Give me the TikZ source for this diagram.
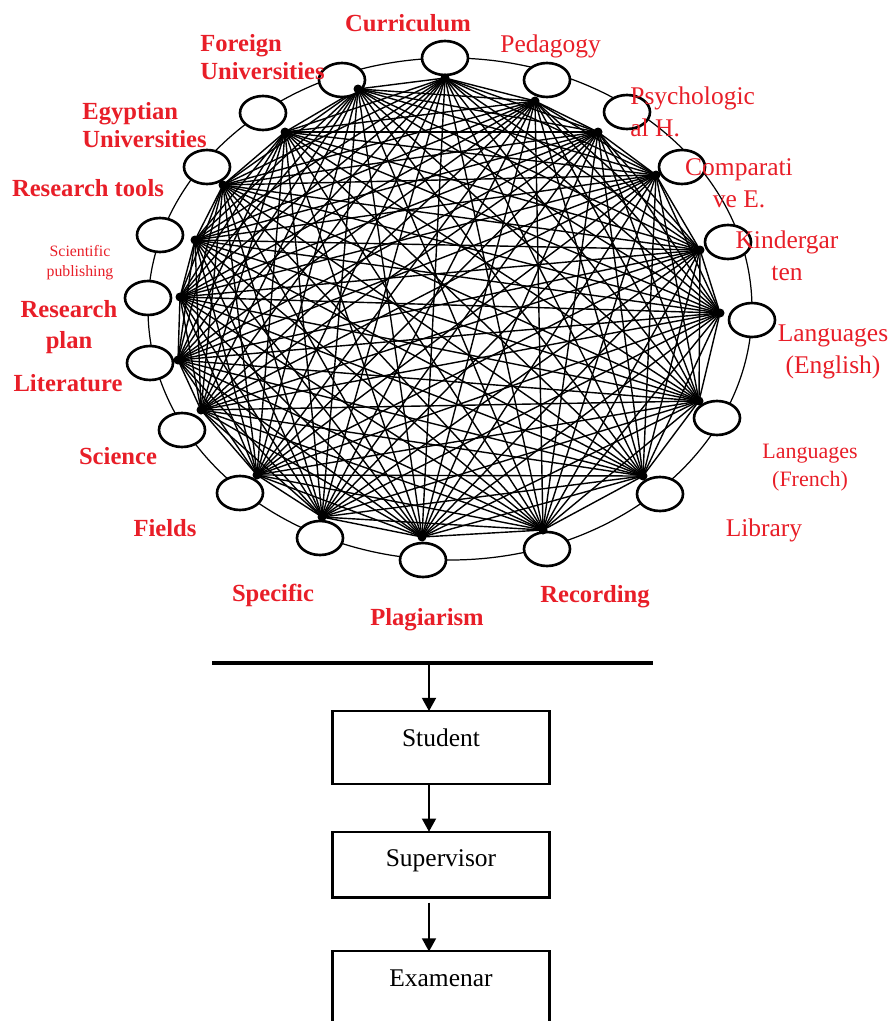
\documentclass[tikz,border=0pt]{standalone}
\usepackage{fontspec}
\setmainfont{Liberation Serif}
\usetikzlibrary{shapes.geometric,positioning,arrows.meta}

\definecolor{labelred}{RGB}{232,30,40}

\tikzset{
  station/.style={ellipse, draw, line width=1.5pt, fill=white,
    minimum width=0.92cm, minimum height=0.68cm, inner sep=0pt},
  link/.style={line width=0.8pt},
  ring/.style={line width=0.7pt},
  boldtag/.style={text=labelred, inner sep=0pt, align=center,
    font=\bfseries\fontsize{14pt}{15.5pt}\selectfont},
  thintag/.style={text=labelred, inner sep=0pt, align=center,
    font=\fontsize{14.5pt}{18pt}\selectfont},
  stagebox/.style={draw, line width=1.2pt, anchor=north, outer sep=0pt,
    minimum width=4.34cm, inner ysep=10pt, text height=10pt,
    font=\fontsize{14.5pt}{17pt}\selectfont},
  flow/.style={line width=1pt, -{Triangle[length=7.5pt, width=8pt]}}
}

\begin{document}
\begin{tikzpicture}[x=0.02cm, y=-0.02cm]

    % Fix the frame to the size of the figure
    \useasboundingbox (0,0) rectangle (893,1021);
    \clip (0,0) rectangle (893,1021);

    % Centre of the ring of topics
    \coordinate (ctr) at (450,309);

    % Meeting points of the links, just inside each topic
    \coordinate (p1) at (445,78);
    \coordinate (p2) at (535,101);
    \coordinate (p3) at (598,132);
    \coordinate (p4) at (656,175);
    \coordinate (p5) at (700,250);
    \coordinate (p6) at (720,313);
    \coordinate (p7) at (699,401);
    \coordinate (p8) at (643,476);
    \coordinate (p9) at (543,530);
    \coordinate (p10) at (422,537);
    \coordinate (p11) at (322,517);
    \coordinate (p12) at (257,475);
    \coordinate (p13) at (201,410);
    \coordinate (p14) at (178,360);
    \coordinate (p15) at (180,297);
    \coordinate (p16) at (195,240);
    \coordinate (p17) at (223,185);
    \coordinate (p18) at (285,132);
    \coordinate (p19) at (358,89);

    % Draw the ring through the topics
    \draw[ring] (ctr) ellipse [x radius=302, y radius=251];

    % Link every topic with every other one
    \foreach \i in {1,...,19}
      \foreach \j in {\i,...,19}
        \draw[link] (p\i) -- (p\j);

    % Draw the topics
    \node[station] (n1) at (445,58) {};
    \node[station] (n2) at (547,80) {};
    \node[station] (n3) at (627,112) {};
    \node[station] (n4) at (682,167) {};
    \node[station] (n5) at (728,242) {};
    \node[station] (n6) at (752,320) {};
    \node[station] (n7) at (717,418) {};
    \node[station] (n8) at (660,494) {};
    \node[station] (n9) at (547,549) {};
    \node[station] (n10) at (423,560) {};
    \node[station] (n11) at (320,538) {};
    \node[station] (n12) at (240,493) {};
    \node[station] (n13) at (182,430) {};
    \node[station] (n14) at (150,363) {};
    \node[station] (n15) at (148,298) {};
    \node[station] (n16) at (160,235) {};
    \node[station] (n17) at (207,167) {};
    \node[station] (n18) at (263,113) {};
    \node[station] (n19) at (342,80) {};

    % Add a small dot where the links meet
    \foreach \i in {1,...,19}
      \fill (p\i) circle (4.5);

    % Add labels for the topics
    \node[boldtag] (curriculum) at (408,23) {Curriculum};
    \node[thintag, anchor=west] (pedagogy) at (500,46) {Pedagogy};
    \node[thintag, anchor=west, align=left] (psych) at (630,112) {Psychologic\\al H.};
    \node[thintag] (comparative) at (739,183) {Comparati\\ve E.};
    \node[thintag] (kinder) at (787,256) {Kindergar\\ten};
    \node[thintag] (english) at (833,352) {Languages\\(English)};
    \node[thintag, font=\fontsize{12.5pt}{16pt}\selectfont] (french) at (810,468) {Languages\\(French)};
    \node[thintag] (library) at (764,530) {Library};
    \node[boldtag] (recording) at (595,597) {Recording};
    \node[boldtag] (plagiarism) at (427,620) {Plagiarism};
    \node[boldtag] (specific) at (273,595) {Specific};
    \node[boldtag] (fields) at (165,528) {Fields};
    \node[boldtag] (science) at (118,456) {Science};
    \node[boldtag] (literature) at (68,383) {Literature};
    \node[boldtag, font=\bfseries\fontsize{14pt}{17.5pt}\selectfont] (plan) at (69,327) {Research\\plan};
    \node[thintag, font=\fontsize{9pt}{11.5pt}\selectfont] (publishing) at (80,263) {Scientific\\publishing};
    \node[boldtag] (tools) at (88,188) {Research tools};
    \node[boldtag, anchor=west, align=left] (egyptian) at (82,125) {Egyptian\\Universities};
    \node[boldtag, anchor=west, align=left] (foreign) at (200,57) {Foreign\\Universities};

    % The bar under the ring
    \coordinate (barL) at (212,663);
    \coordinate (barR) at (653,663);
    \coordinate (tap) at (429,663);
    \draw[line width=2.8pt] (barL) -- (barR);

    % The three stages
    \node[stagebox, text depth=11.4pt] (student) at (441,711) {Student};
    \node[stagebox, text depth=7.4pt, below=0.96cm of student] (supervisor) {Supervisor};
    \node[stagebox, text depth=11.4pt, below=1.08cm of supervisor] (examenar) {Examenar};

    % Arrows between them
    \draw[flow] (tap) -- (tap |- student.north);
    \draw[flow] (student.south -| tap) -- (supervisor.north -| tap);
    \draw[flow, shorten <=3pt] (supervisor.south -| tap) -- (examenar.north -| tap);

\end{tikzpicture}
\end{document}
